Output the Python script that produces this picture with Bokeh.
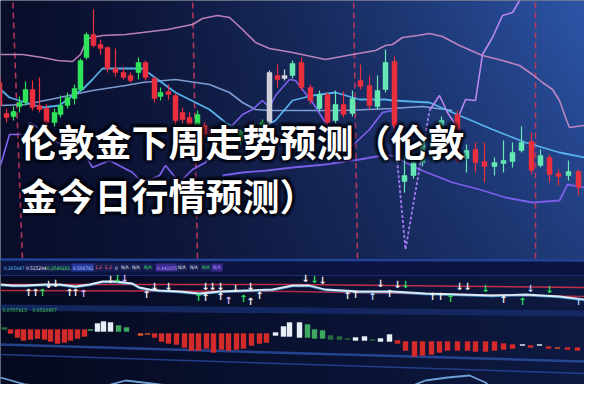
import numpy as np
from bokeh.plotting import figure
from bokeh.models import Range1d, ColumnDataSource
from bokeh.core.properties import value
from bokeh.embed import file_html
from bokeh.resources import INLINE

# All readings below are taken from the picture as rows counted from its top edge;
# lv() turns them into chart levels (higher = up).
TOP = 400


def lv(a):
    return [TOP - v for v in a]


# ---------------- price panel: candles ----------------
candle_x = [1, 7, 14, 21, 27, 33, 40, 47, 54, 62, 68, 75, 82, 88, 94, 101, 108, 115, 123, 131,
            138, 146, 153, 162, 168, 176, 183, 190, 197, 205, 212, 219, 226, 233, 240, 248, 255, 262, 270, 277,
            285, 292, 300, 309, 318, 327, 335, 343, 351, 360, 368, 377, 385, 393, 402, 412, 421, 430, 440, 449,
            465, 474, 483, 492, 502, 511, 520, 529, 539, 548, 557, 566, 576, 586, 595]
candle_body_top = [85, 90, 121, 119, 110, 97, 97, 113, 116, 120, 113, 105, 96, 68, 42, 42, 52, 55, 76, 80,
                   83, 70, 70, 86, 100, 99, 103, 120, 125, 122, 133, 137, 139, 141, 143, 140, 137, 134, 130, 80,
                   83, 83, 71, 70, 95, 102, 102, 112, 112, 106, 88, 93, 98, 70, 69, 183, 170, 148, 140, 128,
                   122, 158, 157, 169, 170, 168, 160, 150, 149, 163, 165, 181, 179, 179, 189]
candle_body_bot = [92, 113, 125, 124, 114, 110, 115, 117, 130, 130, 122, 113, 106, 97, 65, 53, 56, 76, 80, 85,
                   88, 80, 85, 106, 104, 102, 128, 127, 133, 133, 142, 145, 149, 152, 150, 148, 145, 142, 137, 130,
                   87, 86, 83, 95, 108, 116, 130, 128, 122, 121, 94, 113, 114, 97, 133, 189, 183, 170, 163, 146,
                   167, 166, 170, 174, 174, 171, 169, 158, 178, 173, 182, 184, 183, 195, 197]
candle_wick_top = [83, 87, 116, 114, 104, 89, 88, 85, 112, 116, 103, 100, 92, 66, 40, 17, 47, 54, 56, 75,
                   80, 65, 68, 84, 95, 92, 101, 115, 120, 118, 130, 134, 136, 138, 140, 137, 134, 131, 127, 78,
                   72, 77, 68, 65, 92, 98, 100, 98, 99, 98, 72, 83, 83, 57, 64, 163, 160, 143, 135, 124,
                   118, 152, 150, 150, 165, 148, 150, 134, 140, 157, 162, 177, 168, 177, 187]
candle_wick_bot = [95, 118, 130, 128, 120, 113, 118, 120, 134, 134, 125, 116, 112, 99, 67, 55, 62, 80, 84, 87,
                   90, 87, 88, 110, 108, 107, 132, 131, 137, 136, 146, 149, 153, 156, 154, 152, 149, 146, 141, 135,
                   95, 88, 86, 98, 112, 119, 134, 131, 125, 124, 97, 117, 117, 100, 137, 200, 186, 174, 168, 150,
                   170, 180, 180, 190, 183, 180, 175, 160, 182, 175, 190, 193, 188, 203, 204]
candle_kind = ["r", "r", "r", "g", "g", "g", "r", "r", "r", "g", "g", "g", "g", "g", "g", "r", "r", "r", "r", "r",
               "r", "g", "r", "r", "g", "r", "r", "r", "r", "g", "r", "r", "g", "r", "g", "g", "r", "g", "g", "w",
               "r", "w", "t", "r", "r", "t", "r", "t", "r", "t", "r", "r", "t", "t", "r", "t", "t", "t", "t", "t",
               "r", "t", "r", "r", "t", "t", "t", "t", "r", "t", "r", "r", "t", "r", "t"]

# ---------------- price panel: indicator lines ----------------
band_up_x = [8, 30, 50, 65, 80, 88, 95, 110, 133, 150, 175, 200, 210, 225, 237, 250, 263, 277, 300, 333,
             360, 383, 393, 400, 410, 425, 437, 450, 467, 490, 510, 527, 540, 550, 560, 567, 573, 577, 592]
band_up_y = [62, 62, 65, 68, 69, 62, 46, 43, 42, 40, 37, 32, 26, 23, 25, 37, 50, 56, 60, 67,
             62, 58, 53, 52, 45, 43, 41, 44, 53, 63, 68, 73, 82, 90, 97, 108, 125, 135, 133]

mid_x = [8, 17, 33, 50, 67, 80, 90, 100, 110, 127, 150, 183, 217, 233, 250, 270, 283, 300, 320, 343,
         367, 393, 400, 437, 467, 500, 533, 567, 592]
mid_y = [97, 105, 110, 115, 113, 103, 97, 87, 76, 76, 76, 100, 117, 130, 140, 135, 128, 108, 103, 100,
         107, 107, 108, 110, 123, 137, 150, 160, 165]

ma2_x = [8, 33, 67, 100, 133, 150, 183, 217, 237, 250, 263, 277, 300, 350, 400, 430, 460]
ma2_y = [113, 112, 105, 98, 93, 90, 87, 92, 100, 110, 117, 118, 118, 118, 116, 114, 118]

purple_a_x = [8, 17, 32, 37, 50, 65, 83, 93, 100, 117, 140, 150, 167, 173, 187, 200, 213, 233, 250, 260,
              270, 277, 283, 297, 303, 310, 320, 333, 345, 360, 377, 390, 400]
purple_a_y = [173, 142, 142, 130, 138, 150, 157, 163, 175, 168, 180, 190, 183, 173, 190, 177, 170, 140, 122, 117,
              108, 115, 103, 87, 88, 97, 110, 130, 150, 153, 137, 120, 118]

spike_x = [400, 413, 437]
spike_y = [118, 257, 118]

purple_b_x = [437, 447, 455, 463, 473, 483, 490, 500, 510, 520, 530, 543]
purple_b_y = [118, 103, 120, 132, 107, 108, 62, 45, 23, 20, 3, -2]

low_band_x = [230, 250, 275, 300, 333, 367, 390, 400, 427, 460, 487, 513, 540, 567, 575, 592]
low_band_y = [183, 180, 178, 175, 172, 167, 163, 163, 177, 190, 197, 205, 210, 208, 192, 195]

# event markers (dashed verticals)
marker_x_top = [20, 200, 361, 543]
marker_x_bot = [30, 205, 365, 543]

# ---------------- lower panels ----------------
info_text = ["0.265647", "0.515294", "0.2549281", "0.506781", "1.2 -1.2", "0", "N/A", "N/A", "N/A",
             "0.441055", "N/A", "N/A", "N/A", "N/A"]
info_left = [10, 32, 53, 79, 101, 121, 127, 138, 150, 163, 184, 196, 208, 219]
info_kind = ["c", "w", "g", "b", "r", "w", "w", "w", "g", "p", "w", "w", "g", "p"]

info2_text = ["0.0707413", "0.0510957"]
info2_left = [10, 40]

osc_x = [8, 20, 33, 53, 67, 83, 97, 110, 123, 140, 147, 157, 167, 187, 207, 227, 253, 280, 300, 317,
         333, 367, 400, 433, 467, 500, 533, 567, 592]
osc_y = [292, 293, 293, 292, 292, 294, 292, 289, 289, 291, 295, 297, 298, 299, 301, 299, 298, 297, 293, 293,
         297, 299, 299, 301, 302, 303, 302, 304, 307]
level_hi_x = [8, 300, 592]
level_hi_y = [292, 292, 295]
level_lo_x = [8, 300, 592]
level_lo_y = [298, 299, 304]

arrow_x = [36, 43, 50, 56, 63, 77, 83, 91, 118, 125, 132, 154, 162, 176, 206, 213, 213, 220, 228, 228,
           236, 243, 251, 258, 258, 267, 313, 322, 330, 355, 363, 380, 388, 397, 405, 413, 440, 448, 458, 467,
           475, 493, 511, 530, 538, 557, 586]
arrow_y = [300, 300, 300, 292, 291, 300, 300, 301, 287, 286, 286, 302, 294, 294, 305, 294, 305, 294, 294, 304,
           308, 296, 306, 294, 309, 303, 286, 287, 288, 303, 302, 304, 291, 301, 292, 292, 304, 304, 306, 294,
           294, 296, 307, 309, 296, 297, 309]
arrow_dir = ["u", "u", "u", "d", "d", "u", "u", "u", "d", "d", "d", "u", "d", "d", "u", "d", "u", "d", "d", "u",
             "u", "d", "u", "d", "u", "u", "d", "d", "d", "u", "u", "u", "d", "u", "d", "d", "u", "u", "u", "d",
             "d", "d", "u", "u", "d", "d", "u"]
arrow_kind = ["w", "w", "g", "w", "w", "w", "w", "l", "w", "g", "l", "w", "w", "w", "g", "w", "w", "w", "w", "w",
              "l", "w", "g", "w", "w", "w", "w", "g", "w", "w", "w", "b", "w", "w", "w", "g", "w", "w", "g", "w",
              "w", "g", "w", "g", "b", "g", "b"]

hist_x = [5, 12, 18, 25, 31, 38, 45, 52, 58, 65, 72, 78, 85, 92, 98, 105, 111, 118, 126, 134,
          148, 155, 162, 169, 176, 184, 192, 199, 206, 214, 221, 229, 236, 244, 251, 259, 267, 274, 283, 291,
          297, 307, 315, 322, 330, 338, 347, 355, 363, 372, 380, 388, 397, 405, 413, 422, 430, 439, 447, 455,
          465, 475, 483, 493, 502, 511, 520, 530, 538, 547, 556, 565, 575, 585, 595]
hist_top = [332, 335, 337, 337, 337, 337, 337, 337, 337, 337, 337, 337, 337, 337, 337, 331, 329, 330, 333, 335,
            341, 341, 341, 341, 341, 341, 341, 341, 341, 341, 341, 341, 341, 341, 341, 341, 341, 341, 340, 334,
            330, 330, 332, 337, 338, 343, 344, 346, 345, 344, 347, 346, 342, 348, 349, 349, 349, 349, 349, 349,
            349, 349, 349, 349, 349, 351, 352, 352, 353, 352, 354, 355, 355, 355, 356]
hist_bot = [337, 337, 341, 345, 348, 347, 346, 347, 349, 351, 350, 348, 346, 344, 338, 339, 339, 339, 339, 339,
            343, 342, 345, 349, 351, 352, 355, 358, 358, 356, 360, 357, 358, 357, 356, 353, 351, 350, 343, 344,
            344, 345, 345, 346, 346, 347, 347, 347, 348, 348, 348, 349, 349, 351, 358, 364, 363, 362, 360, 358,
            358, 358, 359, 359, 358, 357, 356, 353, 355, 353, 356, 356, 357, 358, 358]
hist_kind = ["g", "dg", "r", "r", "r", "r", "r", "r", "r", "r", "r", "r", "r", "r", "g", "w", "w", "w", "g", "g",
             "o", "o", "r", "r", "r", "r", "r", "r", "r", "r", "r", "r", "r", "r", "r", "r", "r", "r", "w", "w",
             "w", "w", "g", "g", "g", "dg", "dg", "dg", "w", "w", "dg", "w", "w", "r", "r", "r", "r", "r", "r", "r",
             "r", "r", "r", "r", "r", "r", "r", "w", "r", "w", "r", "o", "r", "r", "r"]

arc_x = [8, 33, 67, 100, 133, 167, 200, 233, 280, 330, 370, 410, 433, 455, 477, 493, 500, 540, 592]
arc_y = [385, 392, 395, 397, 388, 392, 395, 398, 400, 400, 399, 397, 388, 385, 383, 390, 397, 400, 402]

title_lines = ["伦敦金下周走势预测（伦敦", "金今日行情预测）"]

# ---------------- styles ----------------
CANDLE_COL = {"r": "#ea2f3f", "g": "#2fe35a", "t": "#66e8b4", "w": "#cfd0d8"}
HIST_COL = {"r": "#d42a2a", "o": "#e2582a", "w": "#e8eef6", "g": "#3fa860", "dg": "#2a6a40"}
ARROW_COL = {"w": "#f2f2f2", "g": "#2fe060", "l": "#d0b8ff", "b": "#b0d8f8"}
INFO_COL = {"c": "#5cc8ff", "w": "#e8e8f0", "g": "#40e060", "b": "#b8c8ff", "r": "#ff5a5a", "p": "#b898ff"}
INFO_BOX = {"c": "#0d1440", "w": "#161e52", "g": "#161e52", "b": "#26379a", "r": "#161e52", "p": "#3a2a8c"}

W, H = 584, 384
X0, X1 = 8, 592

p = figure(width=W, height=H, x_range=Range1d(X0, X1), y_range=Range1d(TOP - 392, TOP - 8),
           output_backend="svg", toolbar_location=None, min_border=0,
           x_axis_type=None, y_axis_type=None, outline_line_color=None,
           background_fill_color="#0a0e2c", border_fill_color="#0a0e2c")
p.grid.visible = False

# background gradient (dark navy on the left, brighter blue on the upper right)
cols = np.arange(W) + X0 + 0.5
rows = (392 - np.arange(H)) - 0.5
XX, YY = np.meshgrid(cols, rows)
t = np.clip(XX / 600.0, 0, 1) ** 1.4 * (1 - 0.35 * np.clip(YY / 266.0, 0, 1))
dark = np.array([9, 13, 42], dtype=float)
blue = np.array([46, 88, 172], dtype=float)
rgb = dark + t[..., None] * (blue - dark)
rgb_low = np.array([6, 10, 32], dtype=float) + (XX / 600.0)[..., None] * np.array([8, 16, 34], dtype=float)
rgb = np.where((YY >= 268)[..., None], rgb_low, rgb)
img = np.empty((H, W), dtype=np.uint32)
view = img.view(dtype=np.uint8).reshape((H, W, 4))
view[..., 0:3] = np.clip(rgb, 0, 255).astype(np.uint8)
view[..., 3] = 255
p.image_rgba(image=[img], x=X0, y=TOP - 392, dw=W, dh=H)

# event markers
p.segment(x0=marker_x_top, y0=lv([0] * 4), x1=marker_x_bot, y1=lv([268] * 4),
          line_color="#c43a5c", line_width=1.6, line_dash="6 4", line_alpha=0.9)

# indicator lines in the price panel
p.line(band_up_x, lv(band_up_y), line_color="#cc8cc8", line_width=1.6, line_alpha=0.9)
p.line(ma2_x, lv(ma2_y), line_color="#8fb4ea", line_width=1.6, line_alpha=0.85)
p.line(mid_x, lv(mid_y), line_color="#58b8f2", line_width=1.8, line_alpha=0.95)
p.line(low_band_x, lv(low_band_y), line_color="#7a5ee8", line_width=1.8)
p.line(purple_a_x, lv(purple_a_y), line_color="#7f62ee", line_width=1.6)
p.line(spike_x, lv(spike_y), line_color="#a47af4", line_width=1.8, line_dash="3 2")
p.line(purple_b_x, lv(purple_b_y), line_color="#b888f2", line_width=1.6)

# candles
bt, bb = [], []
for a, b in zip(candle_body_top, candle_body_bot):
    if b - a < 2:
        b = a + 2
    bt.append(TOP - a)
    bb.append(TOP - b)
csrc = ColumnDataSource(dict(x=candle_x, bt=bt, bb=bb, hi=lv(candle_wick_top), lo=lv(candle_wick_bot),
                             c=[CANDLE_COL[k] for k in candle_kind]))
p.segment(x0="x", y0="hi", x1="x", y1="lo", line_color="c", line_width=1.2, source=csrc)
p.vbar(x="x", top="bt", bottom="bb", width=5, fill_color="c", line_color="c", line_width=0.5, source=csrc)

# ---------------- lower panels ----------------
p.quad(left=X0, right=X1, top=TOP - 268, bottom=TOP - 283, fill_color="#0b1340", line_color=None)
p.line([X0, X1], lv([267, 268]), line_color="#2448a0", line_width=2.5, line_alpha=0.9)
p.line([X0, X1], lv([283, 283]), line_color="#1c2c72", line_width=1)
p.line([X0, X1], lv([315, 321]), line_color="#152a66", line_width=6, line_alpha=0.9)
p.line([X0, X1], lv([352, 369]), line_color="#2a4da0", line_width=2.5, line_alpha=0.85)
p.line([X0, X1], lv([362, 381]), line_color="#2848a0", line_width=1.5, line_alpha=0.8)

# info row
box_w = [len(s) * 2.75 + 3 for s in info_text]
isrc = ColumnDataSource(dict(x=[l + w / 2 for l, w in zip(info_left, box_w)], w=box_w,
                             tx=[l + 1.5 for l in info_left], text=info_text,
                             fc=[INFO_BOX[k] for k in info_kind], tc=[INFO_COL[k] for k in info_kind]))
p.rect(x="x", y=TOP - 275, width="w", height=8, fill_color="fc", line_color=None, source=isrc)
p.text(x="tx", y=TOP - 275, text="text", text_color="tc", text_font=value("DejaVu Sans Condensed"),
       text_font_size=value("4.8px"), text_baseline="middle", text_align="left", source=isrc)
p.text(x=info2_left, y=[TOP - 317] * 2, text=info2_text, text_color="#44c844",
       text_font=value("DejaVu Sans Condensed"), text_font_size=value("5px"),
       text_baseline="middle", text_align="left")

# oscillator
p.line(level_hi_x, lv(level_hi_y), line_color="#c0304a", line_width=1.5)
p.line(level_lo_x, lv(level_lo_y), line_color="#b02a48", line_width=1.5)
p.line(osc_x, lv([v + 1 for v in osc_y]), line_color="#4aa8e0", line_width=1.5, line_alpha=0.8)
p.line(osc_x, lv(osc_y), line_color="#d8ecf8", line_width=1.8)

asrc = ColumnDataSource(dict(x=arrow_x, y=lv(arrow_y), text=["↑" if d == "u" else "↓" for d in arrow_dir],
                             c=[ARROW_COL[k] for k in arrow_kind]))
p.text(x="x", y="y", text="text", text_color="c", text_font=value("DejaVu Sans"),
       text_font_size=value("10px"), text_font_style="bold", text_align="center",
       text_baseline="middle", source=asrc)

# histogram
hsrc = ColumnDataSource(dict(x=hist_x, top=lv(hist_top), bottom=lv(hist_bot),
                             c=[HIST_COL[k] for k in hist_kind]))
p.vbar(x="x", top="top", bottom="bottom", width=5, fill_color="c", line_color="c", line_width=0.4,
       source=hsrc)

p.line(arc_x, lv(arc_y), line_color="#7ab0e8", line_width=1.8, line_alpha=0.9)

# ---------------- title with dark halo ----------------
tx0 = 28
ty = [148, 202]
sx, sy, stxt = [], [], []
for r in (1.5, 3.0, 4.5):
    for ang in np.arange(0, 360, 30):
        for line, yy in zip(title_lines, ty):
            sx.append(tx0 + r * np.cos(np.radians(ang)))
            sy.append(TOP - yy + r * np.sin(np.radians(ang)))
            stxt.append(line)
p.text(x=sx, y=sy, text=stxt, text_color="#02040c", text_alpha=0.18,
       text_font=value("Noto Sans CJK SC"), text_font_size=value("37px"), text_font_style="bold",
       text_baseline="middle", text_align="left")
p.text(x=[tx0, tx0], y=lv(ty), text=title_lines, text_color="#ffffff",
       text_font=value("Noto Sans CJK SC"), text_font_size=value("37px"), text_font_style="bold",
       text_baseline="middle", text_align="left")

open("out.html", "w").write(file_html(p, INLINE))
